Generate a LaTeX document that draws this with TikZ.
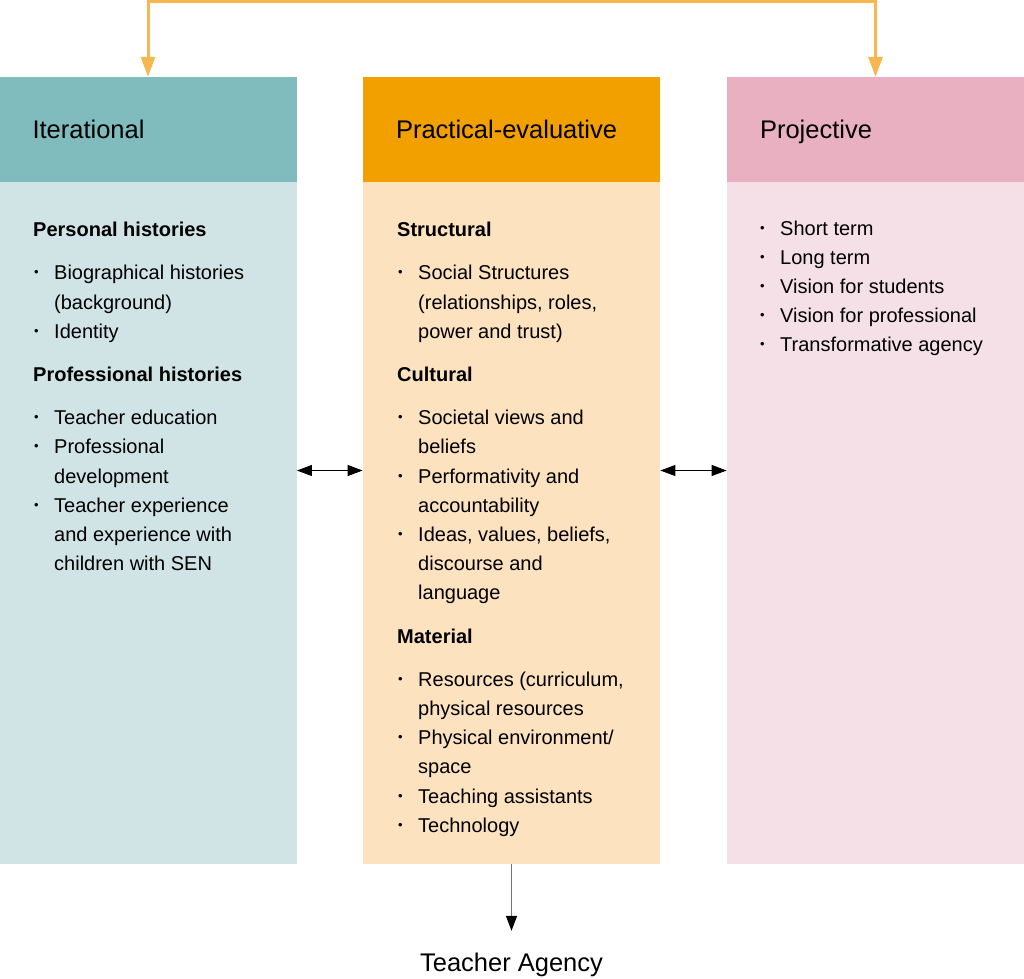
\documentclass[tikz,border=0pt]{standalone}
\usepackage{fontspec}
\setmainfont{Liberation Sans}
\usetikzlibrary{arrows.meta,fit}

\definecolor{iterDark}{HTML}{80BBBD}
\definecolor{iterLight}{HTML}{D0E3E5}
\definecolor{practDark}{HTML}{F29F00}
\definecolor{practLight}{HTML}{FDE2C0}
\definecolor{projDark}{HTML}{E9B0C1}
\definecolor{projLight}{HTML}{F5E0E7}
\definecolor{loopOrange}{HTML}{F8B650}

\newcommand{\bulletmark}{\raisebox{3pt}{\fontsize{13}{13}\selectfont\textbullet}}
\newcommand{\agentitem}[1]{\par\hangindent=21pt\hangafter=1\noindent\makebox[21pt][l]{\hspace{1pt}\bulletmark}#1\par}
\newcommand{\grouphead}[1]{\noindent\textbf{#1}\par\vspace{14pt}}
\newcommand{\groupgap}{\vspace{14pt}}
\newcommand{\agentlist}[1]{\parbox[t]{250pt}{\fontsize{20}{29.2}\selectfont\raggedright\parindent=0pt\parskip=0pt #1}}

\begin{document}
\begin{tikzpicture}[x=1pt, y=-1pt,
  headbox/.style={rectangle, minimum width=297pt, minimum height=105pt, inner xsep=33pt, inner ysep=0pt,
    text width=231pt, align=left, text height=18pt, text depth=0pt, font=\fontsize{25.5}{30}\selectfont},
  bodybox/.style={rectangle, minimum width=297pt, minimum height=682pt, inner sep=0pt},
  listtext/.style={anchor=base west, inner sep=0pt},
  sidearrow/.style={{Triangle[length=15pt,width=11pt]}-{Triangle[length=15pt,width=11pt]}, line width=1pt},
  looparrow/.style={{Triangle[length=20pt,width=14pt]}-{Triangle[length=20pt,width=14pt]}, line width=3pt, draw=loopOrange},
  agencyarrow/.style={-{Triangle[length=15pt,width=11pt,black]}, line width=1.3pt, draw=black!55, shorten >=21.5pt}]
\useasboundingbox (0,0) rectangle (1024,978);

% column heads
\node[headbox, fill=iterDark] (iterHead) at (148,129.5) {Iterational};
\node[headbox, fill=practDark] (practHead) at (511.5,129.5) {Practical-evaluative};
\node[headbox, fill=projDark] (projHead) at (875.5,129.5) {Projective};

% column bodies
\node[bodybox, fill=iterLight] (iterBody) at (148,523) {};
\node[bodybox, fill=practLight] (practBody) at (511.5,523) {};
\node[bodybox, fill=projLight] (projBody) at (875.5,523) {};

\node[fit=(iterHead)(iterBody), inner sep=0pt] (iterCol) {};
\node[fit=(practHead)(practBody), inner sep=0pt] (practCol) {};
\node[fit=(projHead)(projBody), inner sep=0pt] (projCol) {};

% lists
\node[listtext] (iterText) at (33,236.7) {\agentlist{%
  \grouphead{Personal histories}
  \agentitem{Biographical histories\newline(background)}
  \agentitem{Identity}
  \groupgap
  \grouphead{Professional histories}
  \agentitem{Teacher education}
  \agentitem{Professional\newline development}
  \agentitem{Teacher experience\newline and experience with\newline children with SEN}}};

\node[listtext] (practText) at (397,236.7) {\agentlist{%
  \grouphead{Structural}
  \agentitem{Social Structures\newline(relationships, roles,\newline power and trust)}
  \groupgap
  \grouphead{Cultural}
  \agentitem{Societal views and\newline beliefs}
  \agentitem{Performativity and\newline accountability}
  \agentitem{Ideas, values, beliefs,\newline discourse and\newline language}
  \groupgap
  \grouphead{Material}
  \agentitem{Resources (curriculum,\newline physical resources}
  \agentitem{Physical environment/\newline space}
  \agentitem{Teaching assistants}
  \agentitem{Technology}}};

\node[listtext] (projText) at (759,235) {\agentlist{%
  \agentitem{Short term}
  \agentitem{Long term}
  \agentitem{Vision for students}
  \agentitem{Vision for professional}
  \agentitem{Transformative agency}}};

\node[anchor=base, inner sep=0pt, text height=18.5pt, font=\fontsize{25.5}{30}\selectfont] (agency) at (511.5,971) {Teacher Agency};

% connectors
\draw[looparrow] (iterHead.north) -- ++(0,-75.5) -| (projHead.north);
\draw[sidearrow] (iterCol.east) -- (practCol.west);
\draw[sidearrow] (practCol.east) -- (projCol.west);
\draw[agencyarrow] (practCol.south) -- (agency.north);
\end{tikzpicture}
\end{document}
